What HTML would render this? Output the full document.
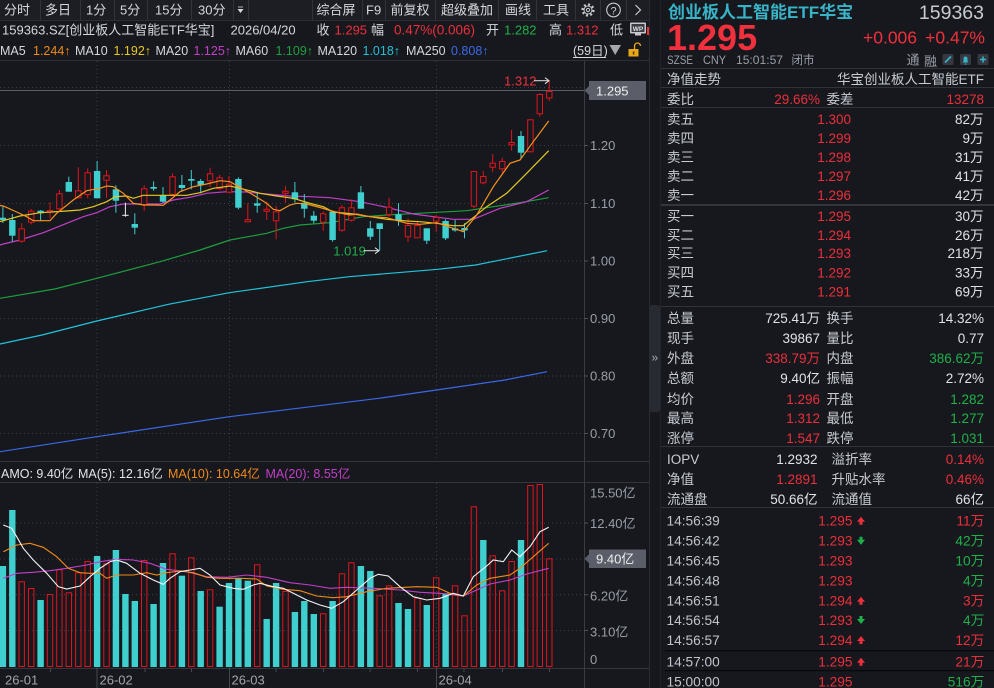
<!DOCTYPE html>
<html><head><meta charset="utf-8">
<style>
html,body{margin:0;padding:0;background:#16181d;overflow:hidden;}
svg{display:block}
text{font-family:"Liberation Sans","Noto Sans CJK SC",sans-serif;}
</style></head>
<body>
<svg width="994" height="688" viewBox="0 0 994 688" xmlns="http://www.w3.org/2000/svg">
<rect x="0" y="0" width="994" height="688" fill="#16181d"/>
<!-- toolbar row1 -->
<rect x="0" y="0" width="649" height="20" fill="#1c1e23"/>
<line x1="0" y1="20.5" x2="649" y2="20.5" stroke="#2c2e34"/>
<line x1="0" y1="60.5" x2="649" y2="60.5" stroke="#2e3036"/>
<g stroke="#30333a" stroke-width="1">
<line x1="40.5" y1="0" x2="40.5" y2="20"/><line x1="80.5" y1="0" x2="80.5" y2="20"/><line x1="114.5" y1="0" x2="114.5" y2="20"/><line x1="147.5" y1="0" x2="147.5" y2="20"/><line x1="191.5" y1="0" x2="191.5" y2="20"/><line x1="233.5" y1="0" x2="233.5" y2="20"/><line x1="248.5" y1="0" x2="248.5" y2="20"/>
<line x1="312.5" y1="0" x2="312.5" y2="20"/><line x1="362.5" y1="0" x2="362.5" y2="20"/><line x1="385.5" y1="0" x2="385.5" y2="20"/><line x1="435.5" y1="0" x2="435.5" y2="20"/><line x1="498.5" y1="0" x2="498.5" y2="20"/><line x1="536.5" y1="0" x2="536.5" y2="20"/><line x1="575.5" y1="0" x2="575.5" y2="20"/><line x1="600.5" y1="0" x2="600.5" y2="20"/><line x1="626.5" y1="0" x2="626.5" y2="20"/>
</g>
<g font-size="13" fill="#d4d7dc">
<text x="4" y="14.5">分时</text><text x="45" y="14.5">多日</text><text x="86" y="14.5">1分</text><text x="120" y="14.5">5分</text><text x="155" y="14.5">15分</text><text x="198" y="14.5">30分</text>
<text x="316.5" y="14.5">综合屏</text><text x="366" y="14.5">F9</text><text x="390.5" y="14.5">前复权</text><text x="441" y="14.5">超级叠加</text><text x="505" y="14.5">画线</text><text x="543" y="14.5">工具</text>
</g>
<polygon points="237.5,9 243.5,9 240.5,13" fill="#d4d7dc"/>
<line x1="238" y1="7" x2="243" y2="7" stroke="#d4d7dc" stroke-width="0.8"/>
<!-- gear -->
<circle cx="588" cy="10" r="5.5" fill="none" stroke="#c8ccd2" stroke-width="2.2" stroke-dasharray="2 2.3"/>
<circle cx="588" cy="10" r="4" fill="none" stroke="#c8ccd2" stroke-width="1"/>
<circle cx="588" cy="10" r="1.6" fill="none" stroke="#c8ccd2" stroke-width="1"/>
<circle cx="613.5" cy="10" r="6.8" fill="none" stroke="#c8ccd2" stroke-width="1.1"/>
<text x="613.5" y="14.3" font-size="11" fill="#c8ccd2" text-anchor="middle">?</text>
<polyline points="635.5,5 640.5,10 635.5,15" fill="none" stroke="#c8ccd2" stroke-width="1.2"/>

<!-- row2 -->
<g font-size="13" fill="#d4d7dc">
<text x="2" y="34.5">159363.SZ[创业板人工智能ETF华宝]</text>
<text x="230.5" y="34.5">2026/04/20</text>
<text x="316.5" y="34.5">收</text><text x="334.5" y="34.5" fill="#ec2f3b">1.295</text>
<text x="371" y="34.5">幅</text><text x="394" y="34.5" fill="#ec2f3b" font-size="13.5">0.47%(0.006)</text>
<text x="486" y="34.5">开</text><text x="504" y="34.5" fill="#20b04a">1.282</text>
<text x="549" y="34.5">高</text><text x="566" y="34.5" fill="#ec2f3b">1.312</text>
<text x="610" y="34.5">低</text>
</g>
<rect x="630" y="22.5" width="16" height="11" fill="#c8c8cc" rx="1"/>
<rect x="631.5" y="24" width="13" height="8" fill="#3a3d44"/>
<text x="638" y="31" font-size="6.5" fill="#e0e0e0" text-anchor="middle" font-weight="bold">WP</text>
<rect x="635" y="33.5" width="6" height="2" fill="#c8c8cc"/>
<rect x="647" y="27" width="2" height="8" fill="#ec2f3b"/>

<!-- row3 MA -->
<g font-size="12.5">
<text x="0" y="55" fill="#d4d7dc">MA5</text><text x="33" y="55" fill="#f08a1a">1.244↑</text>
<text x="75" y="55" fill="#d4d7dc">MA10</text><text x="113.5" y="55" fill="#e6c823">1.192↑</text>
<text x="155.5" y="55" fill="#d4d7dc">MA20</text><text x="193.5" y="55" fill="#c23fc8">1.125↑</text>
<text x="235.5" y="55" fill="#d4d7dc">MA60</text><text x="275.5" y="55" fill="#1ea040">1.109↑</text>
<text x="317.5" y="55" fill="#d4d7dc">MA120</text><text x="362.5" y="55" fill="#22c0d8">1.018↑</text>
<text x="406" y="55" fill="#d4d7dc">MA250</text><text x="451" y="55" fill="#3b6ae6">0.808↑</text>
<text x="573" y="55" fill="#d4d7dc">(59日)</text>
</g>
<line x1="573" y1="57.5" x2="606" y2="57.5" stroke="#d4d7dc" stroke-width="1"/>
<polygon points="609.5,45 621,45 615.2,55" fill="#a4a8ae"/>
<path d="M634.5,49 v-3 a3,3 0 0 1 6,0" fill="none" stroke="#e8a818" stroke-width="1.3"/>
<rect x="628.5" y="49" width="10" height="7.5" fill="#e8a818"/>
<rect x="632.8" y="51.5" width="1.6" height="3" fill="#5a3a00"/>

<!-- main chart grid -->
<g stroke="#3a3d45" stroke-width="1" stroke-dasharray="1 3">
<line x1="0" y1="87.5" x2="584" y2="87.5"/><line x1="0" y1="145.5" x2="584" y2="145.5"/><line x1="0" y1="203.5" x2="584" y2="203.5"/><line x1="0" y1="261" x2="584" y2="261"/><line x1="0" y1="318.5" x2="584" y2="318.5"/><line x1="0" y1="376" x2="584" y2="376"/><line x1="0" y1="433.5" x2="584" y2="433.5"/>
<line x1="97" y1="61" x2="97" y2="461"/><line x1="229.5" y1="61" x2="229.5" y2="461"/><line x1="436.5" y1="61" x2="436.5" y2="461"/>
<line x1="0" y1="523" x2="584" y2="523"/><line x1="0" y1="559" x2="584" y2="559"/><line x1="0" y1="594.7" x2="584" y2="594.7"/><line x1="0" y1="630.5" x2="584" y2="630.5"/>
<line x1="97" y1="483" x2="97" y2="668"/><line x1="229.5" y1="483" x2="229.5" y2="668"/><line x1="436.5" y1="483" x2="436.5" y2="668"/>
</g>
<line x1="0" y1="90.5" x2="584" y2="90.5" stroke="#5a5d66" stroke-width="1"/>
<line x1="0" y1="461.5" x2="649" y2="461.5" stroke="#34363d"/>
<line x1="0" y1="482.5" x2="649" y2="482.5" stroke="#34363d"/>
<line x1="0" y1="668.5" x2="649" y2="668.5" stroke="#34363d"/>
<line x1="584.5" y1="61" x2="584.5" y2="688" stroke="#3a3c43"/>
<line x1="649.5" y1="0" x2="649.5" y2="688" stroke="#2a2c32"/>
<line x1="660.5" y1="0" x2="660.5" y2="688" stroke="#202227"/>

<!-- MA lines long -->
<g fill="none" stroke-width="1.2">
<polyline stroke="#3b68e6" points="0,451.7 96.8,436.7 229.4,416.7 378.8,398.3 436.4,390 505,380 547.1,371.7"/>
<polyline stroke="#22c4dc" points="0,344 42,335 96.8,321 168.4,304.3 229.4,292.7 307.2,281.7 349.3,276.7 437.7,269.3 475.6,265 547.1,250.7"/>
<polyline stroke="#1e9e3e" points="0,298.3 54.7,289 96.8,278.3 160,261.7 200,250 230,240 266.7,233.3 283.3,228.3 300,225 330,222.7 363.3,216.7 386.7,215 430,212.7 466.7,210.7 493.3,206.7 520,202.7 548.7,197.7"/>
<polyline stroke="#c23fc8" points="0,245 3.3,244 20,240 43.3,232.7 66.7,223.3 83.3,216.7 96.7,212.7 110,206.7 123.3,204 160,204 173.3,200 190,197.3 206.7,193.3 226.7,191.7 246.7,192 266.7,194 290,196 310,196.7 330,197.7 360,201.7 386.7,207.3 413.3,214 453.3,219.3 473.3,219.3 500,208.3 526.7,201.7 548.7,190"/>
</g>

<!-- candles -->
<g stroke-width="1">
<g stroke="#3fcfcf" fill="#3fcfcf">
<line x1="2.9" y1="206.7" x2="2.9" y2="223"/><rect x="-0.3" y="217.7" width="6.4" height="2.3" stroke="none"/>
<line x1="12.3" y1="214" x2="12.3" y2="241.7"/><rect x="9.1" y="220" width="6.4" height="15.7" stroke="none"/>
<line x1="40.6" y1="210" x2="40.6" y2="221"/><rect x="37.4" y="210.7" width="6.4" height="2.6" stroke="none"/>
<line x1="68.8" y1="176.7" x2="68.8" y2="191.7"/><rect x="65.6" y="182" width="6.4" height="9.7" stroke="none"/>
<line x1="97.1" y1="161" x2="97.1" y2="198.3"/><rect x="93.9" y="171" width="6.4" height="27.3" stroke="none"/>
<line x1="115.9" y1="185.3" x2="115.9" y2="212.7"/><rect x="112.7" y="189.3" width="6.4" height="11.4" stroke="none"/>
<line x1="134.8" y1="213.3" x2="134.8" y2="234.3"/><rect x="131.6" y="224" width="6.4" height="3.7" stroke="none"/>
<line x1="153.6" y1="181.3" x2="153.6" y2="190.7"/><rect x="150.4" y="187" width="6.4" height="1.7" stroke="none"/>
<line x1="163" y1="187" x2="163" y2="202.7"/><rect x="159.8" y="195.3" width="6.4" height="6.4" stroke="none"/>
<line x1="181.9" y1="175" x2="181.9" y2="191.7"/><rect x="178.7" y="185" width="6.4" height="3" stroke="none"/>
<line x1="191.3" y1="170" x2="191.3" y2="189.3"/><rect x="188.1" y="179" width="6.4" height="1.7" stroke="none"/>
<line x1="200.7" y1="179" x2="200.7" y2="193.3"/><rect x="197.5" y="181" width="6.4" height="4" stroke="none"/>
<line x1="238.4" y1="177.3" x2="238.4" y2="209.3"/><rect x="235.2" y="179" width="6.4" height="28.7" stroke="none"/>
<line x1="257.2" y1="193.3" x2="257.2" y2="212.7"/><rect x="254" y="203.3" width="6.4" height="2.4" stroke="none"/>
<line x1="294.9" y1="182" x2="294.9" y2="202.7"/><rect x="291.7" y="192.3" width="6.4" height="7" stroke="none"/>
<line x1="304.3" y1="194" x2="304.3" y2="217.7"/><rect x="301.1" y="202.7" width="6.4" height="6" stroke="none"/>
<line x1="313.8" y1="211" x2="313.8" y2="223.3"/><rect x="310.6" y="215.7" width="6.4" height="5" stroke="none"/>
<line x1="332.6" y1="211.7" x2="332.6" y2="241.7"/><rect x="329.4" y="211.7" width="6.4" height="28.3" stroke="none"/>
<line x1="360.9" y1="186" x2="360.9" y2="208.7"/><rect x="357.7" y="192.3" width="6.4" height="16.4" stroke="none"/>
<line x1="370.3" y1="221" x2="370.3" y2="240"/><rect x="367.1" y="228.3" width="6.4" height="8.4" stroke="none"/>
<line x1="379.7" y1="223.3" x2="379.7" y2="250.5"/><rect x="376.5" y="223.3" width="6.4" height="5.7" stroke="none"/>
<line x1="398.5" y1="203.3" x2="398.5" y2="225.7"/><rect x="395.3" y="214.3" width="6.4" height="6.7" stroke="none"/>
<line x1="426.8" y1="228.3" x2="426.8" y2="244"/><rect x="423.6" y="228.3" width="6.4" height="12.4" stroke="none"/>
<line x1="445.6" y1="219.3" x2="445.6" y2="240"/><rect x="442.4" y="221" width="6.4" height="17.3" stroke="none"/>
<line x1="455.1" y1="220" x2="455.1" y2="231.7"/><rect x="451.9" y="228.5" width="6.4" height="2" stroke="none"/>
<line x1="464.5" y1="223.3" x2="464.5" y2="238.3"/><rect x="461.3" y="228" width="6.4" height="2.5" stroke="none"/>
<line x1="521" y1="131" x2="521" y2="159"/><rect x="517.8" y="136" width="6.4" height="16.7" stroke="none"/>
</g>
<g stroke="#e0141c" fill="#16181d">
<line x1="21.7" y1="223.3" x2="21.7" y2="242.7"/><rect x="19" y="228.8" width="5.4" height="12.4"/>
<line x1="31.2" y1="209" x2="31.2" y2="224.3"/><rect x="28.5" y="211.2" width="5.4" height="11"/>
<line x1="50" y1="202.3" x2="50" y2="218.3"/><rect x="47.3" y="210.5" width="5.4" height="1.7"/>
<line x1="59.4" y1="190" x2="59.4" y2="210"/><rect x="56.7" y="193.8" width="5.4" height="15"/>
<line x1="78.3" y1="167.3" x2="78.3" y2="198.3"/><rect x="75.6" y="190.8" width="5.4" height="7"/>
<line x1="87.7" y1="168.3" x2="87.7" y2="198.3"/><rect x="85" y="172.8" width="5.4" height="21.7"/>
<line x1="106.5" y1="170" x2="106.5" y2="197.7"/><rect x="103.8" y="175.8" width="5.4" height="4.4"/>
<line x1="144.2" y1="185.3" x2="144.2" y2="210.7"/><rect x="141.5" y="188.8" width="5.4" height="15.7"/>
<line x1="172.5" y1="173.3" x2="172.5" y2="195"/><rect x="169.8" y="176.8" width="5.4" height="17.7"/>
<line x1="210.1" y1="167.7" x2="210.1" y2="187"/><rect x="207.4" y="173.8" width="5.4" height="7"/>
<line x1="219.6" y1="175" x2="219.6" y2="190"/><rect x="216.9" y="177.8" width="5.4" height="10.7"/>
<line x1="229" y1="176" x2="229" y2="192.7"/><rect x="226.3" y="184.2" width="5.4" height="8"/>
<line x1="247.8" y1="203.3" x2="247.8" y2="222.3"/><rect x="245.1" y="219.8" width="5.4" height="2"/>
<line x1="266.7" y1="201.7" x2="266.7" y2="220"/><rect x="264" y="209.3" width="5.4" height="2"/>
<line x1="276.1" y1="205.7" x2="276.1" y2="239.3"/><rect x="273.4" y="211.8" width="5.4" height="9"/>
<line x1="285.5" y1="186" x2="285.5" y2="202.7"/><rect x="282.8" y="191.3" width="5.4" height="2"/>
<line x1="323.2" y1="211.7" x2="323.2" y2="230.7"/><rect x="320.5" y="213.8" width="5.4" height="8.4"/>
<line x1="342" y1="205" x2="342" y2="231.7"/><rect x="339.3" y="207.8" width="5.4" height="22.4"/>
<line x1="351.4" y1="199.3" x2="351.4" y2="221.7"/><rect x="348.7" y="207.8" width="5.4" height="12.4"/>
<line x1="389.1" y1="197.7" x2="389.1" y2="216.7"/><rect x="386.4" y="207.2" width="5.4" height="7.3"/>
<line x1="408" y1="218.3" x2="408" y2="241.7"/><rect x="405.3" y="225.5" width="5.4" height="11.3"/>
<line x1="417.4" y1="220.7" x2="417.4" y2="238.3"/><rect x="414.7" y="225.5" width="5.4" height="12.3"/>
<line x1="436.2" y1="215" x2="436.2" y2="231.7"/><rect x="433.5" y="217.5" width="5.4" height="3.7"/>
<line x1="473.9" y1="171" x2="473.9" y2="208.3"/><rect x="471.2" y="171.5" width="5.4" height="34.7"/>
<line x1="483.3" y1="171" x2="483.3" y2="184.3"/><rect x="480.6" y="176.5" width="5.4" height="6.3"/>
<line x1="492.7" y1="154" x2="492.7" y2="172.3"/><rect x="490" y="163.2" width="5.4" height="4"/>
<line x1="502.2" y1="157.7" x2="502.2" y2="172.7"/><rect x="499.5" y="161.5" width="5.4" height="7.3"/>
<line x1="511.6" y1="130" x2="511.6" y2="150.7"/><rect x="508.9" y="142.5" width="5.4" height="2.3"/>
<line x1="530.4" y1="119.3" x2="530.4" y2="152.3"/><rect x="527.7" y="119.8" width="5.4" height="32"/>
<line x1="539.8" y1="93.3" x2="539.8" y2="116.7"/><rect x="537.1" y="94.5" width="5.4" height="19.3"/>
<line x1="549.3" y1="81" x2="549.3" y2="101"/><rect x="546.6" y="91.5" width="5.4" height="6.5"/>
</g>
<line x1="125.4" y1="202.7" x2="125.4" y2="216.7" stroke="#f0f0f0"/>
<line x1="122.2" y1="215.3" x2="128.6" y2="215.3" stroke="#f0f0f0"/>
</g>

<!-- short MAs on top -->
<g fill="none" stroke-width="1.2">
<polyline stroke="#e6c823" points="0,221.5 3.3,220.7 20,216 40,212.7 66.7,211 80,210 93.3,206.7 106.7,201.7 115,196.7 126.7,196 133.3,198.3 143.3,195.3 166.7,195.3 186.7,195.3 200,192.7 213.3,188.3 230,186 240,188.3 260,193.3 276.7,196 293.3,198.3 310,203.3 323.3,206.7 333.3,212 353.3,214 370,216.7 386.7,219.3 406.7,221 420,221.7 436.7,223.3 453.3,225.7 463.3,225.7 486.7,206.7 506.7,193.3 526.7,173.3 548.7,150.7"/>
<polyline stroke="#f7931e" points="0,205.5 3.3,206 16.7,212 26.7,216.7 33.3,220.7 50,220.7 56.7,213.3 73.3,200 86.7,190.7 100,188.3 106.7,186 113.3,186.7 123.3,193.3 133.3,203.3 143.3,205 153.3,205 163.3,205.3 170,200 180,191.7 193.3,186.7 206.7,184 220,180.7 230,181.7 240,187.3 253.3,195 266.7,203.3 273.3,209.3 280,210.7 290,205 296.7,203.3 306.7,204 320,207.5 330,210.5 340,213 350,215 356.7,214 370,216.7 386.7,217.7 406.7,223.3 420,224.3 436.7,222.7 453.3,228.3 463.3,231.7 476.7,215 493.3,186.7 510,163.3 520,160 533.3,141.7 548.7,121"/>
</g>

<!-- markers -->
<text x="504" y="85.3" font-size="13" fill="#ec2f3b">1.312</text>
<line x1="534" y1="80.7" x2="549" y2="80.7" stroke="#e0e0e0"/>
<polyline points="545,77.7 549,80.7 545,83.7" fill="none" stroke="#e0e0e0"/>
<text x="333.3" y="255.3" font-size="13" fill="#20b04a">1.019</text>
<line x1="363.5" y1="250.7" x2="379" y2="250.7" stroke="#e0e0e0"/>
<polyline points="375,247.7 379,250.7 375,253.7" fill="none" stroke="#e0e0e0"/>

<!-- right axis -->
<g stroke="#50535a"><line x1="584" y1="145.5" x2="588" y2="145.5"/><line x1="584" y1="203.5" x2="588" y2="203.5"/><line x1="584" y1="261" x2="588" y2="261"/><line x1="584" y1="318.5" x2="588" y2="318.5"/><line x1="584" y1="376" x2="588" y2="376"/><line x1="584" y1="433.5" x2="588" y2="433.5"/>
<line x1="584" y1="523" x2="588" y2="523"/><line x1="584" y1="594.7" x2="588" y2="594.7"/><line x1="584" y1="630.5" x2="588" y2="630.5"/></g>
<g font-size="13" fill="#9a9ea6">
<text x="590" y="150">1.20</text><text x="590" y="208">1.10</text><text x="590" y="265.5">1.00</text><text x="590" y="323">0.90</text><text x="590" y="380.5">0.80</text><text x="590" y="438">0.70</text>
<text x="590" y="497.5">15.50亿</text><text x="590" y="528">12.40亿</text><text x="590" y="600.3">6.20亿</text><text x="590" y="636.3">3.10亿</text><text x="590" y="664">0</text>
</g>
<polygon points="584.5,90.5 589,86 589,95" fill="#5b5e68"/>
<rect x="589" y="81" width="57" height="19" fill="#5b5e68"/>
<text x="596" y="95.3" font-size="13" fill="#eceef0">1.295</text>
<polygon points="584.5,558.7 589,554.2 589,563.2" fill="#5b5e68"/>
<rect x="589" y="549.5" width="57" height="18.5" fill="#5b5e68"/>
<text x="596" y="563.5" font-size="13" fill="#eceef0">9.40亿</text>

<!-- AMO label -->
<g font-size="12.5">
<text x="1" y="478" fill="#e2e4e8">AMO: 9.40亿</text>
<text x="78" y="478" fill="#e2e4e8">MA(5): 12.16亿</text>
<text x="168" y="478" fill="#f08a1a">MA(10): 10.64亿</text>
<text x="265.5" y="478" fill="#c23fc8">MA(20): 8.55亿</text>
</g>

<!-- volume bars -->
<g fill="#3fcfcf">
<rect x="-0.3" y="566" width="6.4" height="101"/><rect x="9.1" y="510" width="6.4" height="157"/><rect x="37.4" y="600" width="6.4" height="67"/><rect x="93.9" y="556" width="6.4" height="111"/><rect x="112.7" y="550" width="6.4" height="117"/><rect x="122.2" y="594" width="6.4" height="73"/><rect x="131.6" y="601" width="6.4" height="66"/><rect x="150.4" y="604" width="6.4" height="63"/><rect x="159.8" y="563" width="6.4" height="104"/><rect x="178.7" y="575.7" width="6.4" height="91.3"/><rect x="197.5" y="591" width="6.4" height="76"/><rect x="216.4" y="606.7" width="6.4" height="60.3"/><rect x="225.8" y="583" width="6.4" height="84"/><rect x="235.2" y="578" width="6.4" height="89"/><rect x="244.6" y="580.7" width="6.4" height="86.3"/><rect x="263.5" y="619" width="6.4" height="48"/><rect x="272.9" y="583" width="6.4" height="84"/><rect x="291.7" y="612" width="6.4" height="55"/><rect x="301.1" y="601" width="6.4" height="66"/><rect x="310.6" y="614" width="6.4" height="53"/><rect x="329.4" y="601" width="6.4" height="66"/><rect x="357.7" y="566" width="6.4" height="101"/><rect x="367.1" y="571" width="6.4" height="96"/><rect x="395.3" y="603" width="6.4" height="64"/><rect x="404.8" y="609" width="6.4" height="58"/><rect x="423.6" y="605" width="6.4" height="62"/><rect x="442.4" y="593.3" width="6.4" height="73.7"/><rect x="480.1" y="540" width="6.4" height="127"/><rect x="517.8" y="540" width="6.4" height="127"/>
</g>
<g fill="none" stroke="#e0141c" stroke-width="1">
<rect x="19" y="581.8" width="5.4" height="84.7"/><rect x="28.5" y="588.5" width="5.4" height="78"/><rect x="47.3" y="594.5" width="5.4" height="72"/><rect x="56.7" y="569.8" width="5.4" height="96.7"/><rect x="66.1" y="592.8" width="5.4" height="73.7"/><rect x="75.6" y="572.8" width="5.4" height="93.7"/><rect x="85" y="561.5" width="5.4" height="105"/><rect x="103.8" y="563.8" width="5.4" height="102.7"/><rect x="141.5" y="560.5" width="5.4" height="106"/><rect x="169.8" y="553.8" width="5.4" height="112.7"/><rect x="188.6" y="557.8" width="5.4" height="108.7"/><rect x="207.4" y="589.8" width="5.4" height="76.7"/><rect x="254.5" y="564.8" width="5.4" height="101.7"/><rect x="282.8" y="591.5" width="5.4" height="75"/><rect x="320.5" y="613.8" width="5.4" height="52.7"/><rect x="339.3" y="573.8" width="5.4" height="92.7"/><rect x="348.7" y="562.8" width="5.4" height="103.7"/><rect x="377" y="595.8" width="5.4" height="70.7"/><rect x="386.4" y="585.8" width="5.4" height="80.7"/><rect x="414.7" y="598.2" width="5.4" height="68.3"/><rect x="433.5" y="577.8" width="5.4" height="88.7"/><rect x="452.4" y="585.8" width="5.4" height="80.7"/><rect x="461.8" y="615.8" width="5.4" height="50.7"/><rect x="471.2" y="506.8" width="5.4" height="159.7"/><rect x="490" y="555.8" width="5.4" height="110.7"/><rect x="499.5" y="590.8" width="5.4" height="75.7"/><rect x="508.9" y="561.5" width="5.4" height="105"/><rect x="527.7" y="485.5" width="5.4" height="181"/><rect x="537.1" y="484.5" width="5.4" height="182"/><rect x="546.6" y="558.8" width="5.4" height="107.7"/>
</g>
<g fill="none" stroke-width="1.1">
<polyline stroke="#c23fc8" points="3.3,578.3 16.7,573.3 33.3,572.3 50,570.7 66.7,568.3 86.7,565 100,561.7 116.7,559.3 133.3,560 150,563.3 166.7,569.3 186.7,571.7 206.7,576.7 226.7,577.3 246.7,575 266.7,577.3 290,582.7 310,585 330,588.3 346.7,587.3 373.3,588.3 400,590 420,592.3 440,593.3 463.3,596 476.7,590 490,584 510,580 526.7,574 548.7,568.3"/>
<polyline stroke="#f08a1a" points="3.3,551.7 16.7,545 30,543.3 43.3,547.3 56.7,556.7 68.3,568.3 80,572.7 90,573.3 100,573.3 106.7,578.3 116.7,575 133.3,575 146.7,572.7 156.7,575 166.7,572.7 180,571 193.3,572.7 206.7,577.3 220,578.3 240,578.3 256.7,579 266.7,586 283.3,589.3 300,590.7 316.7,596 333.3,597.7 346.7,596.7 366.7,591.7 386.7,588.3 416.7,586.7 436.7,587.3 450,593.3 463.3,596 476.7,585 490,578.3 510,575 520,568.3 533.3,556.7 548.7,543.3"/>
<polyline stroke="#f4f4f4" points="3.3,525 11.7,528.3 16.7,536.7 23.3,548.3 33.3,560 46.7,573.3 58.3,586.7 66.7,589 80,586 90,576.7 100,568.3 110,561.7 116.7,560 126.7,563.3 140,573.3 153.3,580 163.3,584.3 170,578.3 180,571.7 190,570 200,568.3 210,575 220,585 233.3,588.3 243.3,589.3 253.3,585 260,583.3 273.3,586.7 283.3,588.3 293.3,593.3 306.7,600 320,605 331.7,608.3 343.3,601.7 356.7,590 370,578.3 378.3,574.3 388.3,576 400,586.7 413.3,596.7 426.7,600 440,598.3 453.3,593.3 463.3,596 473.3,576.7 486.7,566 493.3,560 503.3,561.7 511.7,550 520,556.7 530,546.7 540,531.7 548.7,527.3"/>
</g>

<!-- date axis -->
<g stroke="#44474e">
<line x1="50.5" y1="668" x2="50.5" y2="672"/><line x1="145" y1="668" x2="145" y2="672"/><line x1="191.5" y1="668" x2="191.5" y2="672"/><line x1="276" y1="668" x2="276" y2="672"/><line x1="323.5" y1="668" x2="323.5" y2="672"/><line x1="370" y1="668" x2="370" y2="672"/><line x1="417.5" y1="668" x2="417.5" y2="672"/><line x1="464" y1="668" x2="464" y2="672"/><line x1="502.5" y1="668" x2="502.5" y2="672"/><line x1="549.5" y1="668" x2="549.5" y2="672"/>
<line x1="97" y1="668" x2="97" y2="688"/><line x1="229.5" y1="668" x2="229.5" y2="688"/><line x1="436.5" y1="668" x2="436.5" y2="688"/>
</g>
<g font-size="13" fill="#a0a4ac">
<text x="5" y="684.5">26-01</text><text x="99.5" y="684.5">26-02</text><text x="231.5" y="684.5">26-03</text><text x="438.5" y="684.5">26-04</text>
</g>

<!-- side tab -->
<rect x="649" y="305" width="11.5" height="107" rx="3" fill="#272a30"/>
<text x="651.5" y="361.5" font-size="12" fill="#a8acb2">»</text>

<!-- RIGHT PANEL -->
<text x="668" y="18" font-size="17" font-weight="bold" fill="#38b4c8">创业板人工智能ETF华宝</text>
<text x="984" y="19" font-size="19.5" fill="#c8ccd2" text-anchor="end">159363</text>
<text x="667" y="50" font-size="36" font-weight="bold" fill="#f0303c">1.295</text>
<text x="863" y="43.5" font-size="17.5" fill="#f0303c">+0.006</text>
<text x="985" y="43.5" font-size="17.5" fill="#f0303c" text-anchor="end">+0.47%</text>
<g font-size="12" fill="#9a9ea6">
<text x="667" y="64" textLength="26" lengthAdjust="spacingAndGlyphs">SZSE</text>
<text x="703" y="64" textLength="23" lengthAdjust="spacingAndGlyphs">CNY</text>
<text x="736" y="64" textLength="47" lengthAdjust="spacingAndGlyphs">15:01:57</text>
<text x="791.5" y="64" textLength="23" lengthAdjust="spacingAndGlyphs">闭市</text>
<text x="906.5" y="64.5" font-size="13">通</text><text x="924" y="66" font-size="13">融</text>
</g>
<rect x="942.5" y="54" width="11" height="11" rx="1.5" fill="#353840"/>
<line x1="945" y1="62.5" x2="951" y2="56.5" stroke="#38b4c8" stroke-width="1.6"/>
<rect x="960" y="54" width="11" height="11" rx="1.5" fill="#353840"/>
<path d="M962.5,62.5 h6 l-1,-1.5 v-2.5 a2,2 0 0 0 -4,0 v2.5 z M964.5,63.5 h2 v1 h-2 z" fill="#38b4c8"/>
<rect x="977.5" y="54" width="11" height="11" rx="1.5" fill="#353840"/>
<path d="M983,56.5 v6 M980,59.5 h6" stroke="#38b4c8" stroke-width="1.6"/>

<g stroke="#30333a">
<line x1="661" y1="68.5" x2="994" y2="68.5"/><line x1="661" y1="87.5" x2="994" y2="87.5"/><line x1="661" y1="107.5" x2="994" y2="107.5"/>
<line x1="661" y1="306.5" x2="994" y2="306.5"/><line x1="661" y1="446.5" x2="994" y2="446.5"/><line x1="661" y1="507.5" x2="994" y2="507.5"/>
</g>
<line x1="661" y1="205" x2="994" y2="205" stroke="#50535c"/>
<line x1="665" y1="650.7" x2="994" y2="650.7" stroke="#050608" stroke-width="1.2"/>
<line x1="665" y1="670.7" x2="994" y2="670.7" stroke="#050608" stroke-width="1.2"/>

<g font-size="13.5" fill="#c8ccd2">
<text x="667" y="84">净值走势</text>
<text x="984" y="84" text-anchor="end">华宝创业板人工智能ETF</text>
<text x="667" y="104">委比</text><text x="820" y="104" text-anchor="end" fill="#ec2f3b">29.66%</text>
<text x="826.5" y="104">委差</text><text x="984" y="104" text-anchor="end" fill="#ec2f3b">13278</text>

<text x="667" y="123.8">卖五</text><text x="667" y="143.1">卖四</text><text x="667" y="162.1">卖三</text><text x="667" y="180.8">卖二</text><text x="667" y="199.8">卖一</text>
<text x="667" y="220.8">买一</text><text x="667" y="239.8">买二</text><text x="667" y="258.1">买三</text><text x="667" y="277.5">买四</text><text x="667" y="296.5">买五</text>
</g>
<g font-size="13.5" fill="#ec2f3b" text-anchor="end">
<text x="851" y="123.8">1.300</text><text x="851" y="143.1">1.299</text><text x="851" y="162.1">1.298</text><text x="851" y="180.8">1.297</text><text x="851" y="199.8">1.296</text>
<text x="851" y="220.8">1.295</text><text x="851" y="239.8">1.294</text><text x="851" y="258.1">1.293</text><text x="851" y="277.5">1.292</text><text x="851" y="296.5">1.291</text>
</g>
<g font-size="13.5" fill="#dfe2e6" text-anchor="end">
<text x="983.5" y="123.8">82万</text><text x="983.5" y="143.1">9万</text><text x="983.5" y="162.1">31万</text><text x="983.5" y="180.8">41万</text><text x="983.5" y="199.8">42万</text>
<text x="983.5" y="220.8">30万</text><text x="983.5" y="239.8">26万</text><text x="983.5" y="258.1">218万</text><text x="983.5" y="277.5">33万</text><text x="983.5" y="296.5">69万</text>
</g>

<!-- stats -->
<g font-size="13.5" fill="#c8ccd2">
<text x="667" y="323.1">总量</text><text x="667" y="343.1">现手</text><text x="667" y="363.1">外盘</text><text x="667" y="383.1">总额</text><text x="667" y="403.8">均价</text><text x="667" y="423.1">最高</text><text x="667" y="443.1">涨停</text>
<text x="826.5" y="323.1">换手</text><text x="826.5" y="343.1">量比</text><text x="826.5" y="363.1">内盘</text><text x="826.5" y="383.1">振幅</text><text x="826.5" y="403.8">开盘</text><text x="826.5" y="423.1">最低</text><text x="826.5" y="443.1">跌停</text>
<text x="667" y="464.1">IOPV</text><text x="667" y="483.8">净值</text><text x="667" y="503.8">流通盘</text>
<text x="831.5" y="464.1">溢折率</text><text x="831.5" y="483.8">升贴水率</text><text x="831.5" y="503.8">流通值</text>
</g>
<g font-size="13.5" fill="#dfe2e6" text-anchor="end">
<text x="820" y="323.1">725.41万</text><text x="820" y="343.1">39867</text><text x="820" y="363.1" fill="#ec2f3b">338.79万</text><text x="820" y="383.1">9.40亿</text><text x="820" y="403.8" fill="#ec2f3b">1.296</text><text x="820" y="423.1" fill="#ec2f3b">1.312</text><text x="820" y="443.1" fill="#ec2f3b">1.547</text>
<text x="984" y="323.1">14.32%</text><text x="984" y="343.1">0.77</text><text x="984" y="363.1" fill="#20b04a">386.62万</text><text x="984" y="383.1">2.72%</text><text x="984" y="403.8" fill="#20b04a">1.282</text><text x="984" y="423.1" fill="#20b04a">1.277</text><text x="984" y="443.1" fill="#20b04a">1.031</text>
<text x="817.5" y="464.1">1.2932</text><text x="817.5" y="483.8" fill="#ec2f3b">1.2891</text><text x="817.5" y="503.8">50.66亿</text>
<text x="984" y="464.1" fill="#ec2f3b">0.14%</text><text x="984" y="483.8" fill="#ec2f3b">0.46%</text><text x="984" y="503.8">66亿</text>
</g>

<!-- trades -->
<g font-size="13.7" fill="#c0c4ca">
<text x="666.5" y="525.5">14:56:39</text><text x="666.5" y="545.5">14:56:42</text><text x="666.5" y="565.5">14:56:45</text><text x="666.5" y="585.5">14:56:48</text><text x="666.5" y="605.5">14:56:51</text><text x="666.5" y="624.8">14:56:54</text><text x="666.5" y="644.8">14:56:57</text><text x="666.5" y="666.5">14:57:00</text><text x="666.5" y="686.5">15:00:00</text>
</g>
<g font-size="13.7" fill="#ec2f3b" text-anchor="end">
<text x="852.5" y="525.5">1.295</text><text x="852.5" y="545.5">1.293</text><text x="852.5" y="565.5">1.293</text><text x="852.5" y="585.5">1.293</text><text x="852.5" y="605.5">1.294</text><text x="852.5" y="624.8">1.293</text><text x="852.5" y="644.8">1.294</text><text x="852.5" y="666.5">1.295</text><text x="852.5" y="686.5">1.295</text>
</g>
<g font-size="13.7" text-anchor="end">
<text x="984.3" y="525.5" fill="#ec2f3b">11万</text><text x="984.3" y="545.5" fill="#20b04a">42万</text><text x="984.3" y="565.5" fill="#20b04a">10万</text><text x="984.3" y="585.5" fill="#20b04a">4万</text><text x="984.3" y="605.5" fill="#ec2f3b">3万</text><text x="984.3" y="624.8" fill="#20b04a">4万</text><text x="984.3" y="644.8" fill="#ec2f3b">12万</text><text x="984.3" y="666.5" fill="#ec2f3b">21万</text><text x="984.3" y="686.5" fill="#20b04a">516万</text>
</g>
<g fill="#ec2f3b">
<polygon points="857,521.7 861,516.7 865,521.7 862.5,521.7 862.5,524.7 859.5,524.7 859.5,521.7"/>
<polygon points="857,601.7 861,596.7 865,601.7 862.5,601.7 862.5,604.7 859.5,604.7 859.5,601.7"/>
<polygon points="857,641 861,636 865,641 862.5,641 862.5,644 859.5,644 859.5,641"/>
<polygon points="857,662.7 861,657.7 865,662.7 862.5,662.7 862.5,665.7 859.5,665.7 859.5,662.7"/>
</g>
<g fill="#20b04a">
<polygon points="857,539.7 861,544.7 865,539.7 862.5,539.7 862.5,536.7 859.5,536.7 859.5,539.7"/>
<polygon points="857,619 861,624 865,619 862.5,619 862.5,616 859.5,616 859.5,619"/>
</g>
</svg>
</body></html>
